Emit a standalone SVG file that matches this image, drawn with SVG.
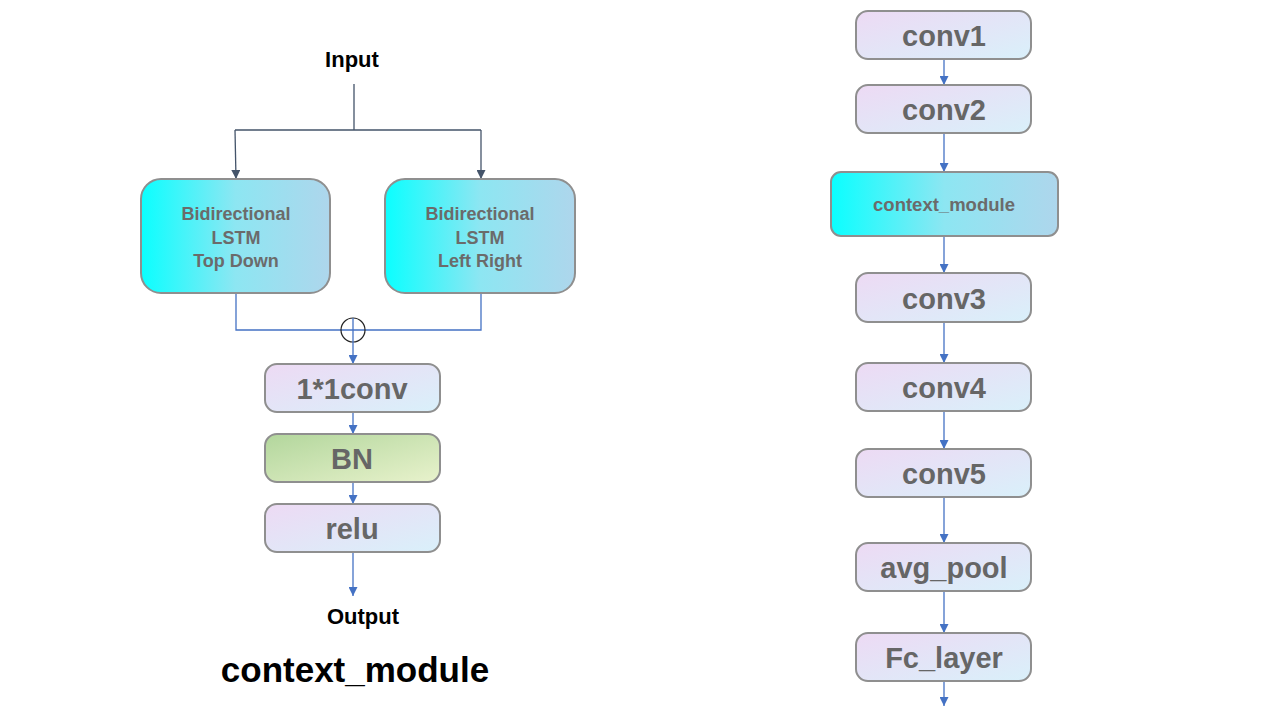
<svg xmlns="http://www.w3.org/2000/svg" width="1280" height="720" viewBox="0 0 1280 720">
<defs>
<linearGradient id="gCyan" x1="0" y1="0" x2="1" y2="0">
<stop offset="0" stop-color="#0AFFFF"/>
<stop offset="0.5" stop-color="#8DE6F2"/>
<stop offset="1" stop-color="#AED6EC"/>
</linearGradient>
<linearGradient id="gPurple" x1="0" y1="0" x2="1" y2="1">
<stop offset="0" stop-color="#EDDAF4"/>
<stop offset="1" stop-color="#D9F0FA"/>
</linearGradient>
<linearGradient id="gGreen" x1="0" y1="0" x2="1" y2="1">
<stop offset="0" stop-color="#B2D69C"/>
<stop offset="1" stop-color="#E8F2CC"/>
</linearGradient>
<marker id="arrBlue" viewBox="0 0 10 10" refX="10" refY="5" markerWidth="9" markerHeight="9" markerUnits="userSpaceOnUse" orient="auto">
<path d="M0,0 L10,5 L0,10 z" fill="#4472C4"/>
</marker>
<marker id="arrDark" viewBox="0 0 10 10" refX="10" refY="5" markerWidth="9" markerHeight="9" markerUnits="userSpaceOnUse" orient="auto">
<path d="M0,0 L10,5 L0,10 z" fill="#44546A"/>
</marker>
</defs>
<style>
.box{stroke:#8F8F8F;stroke-width:2}
.cy{fill:url(#gCyan)}
.pu{fill:url(#gPurple)}
.gr{fill:url(#gGreen)}
.big{font-family:"Liberation Sans",Arial,sans-serif;font-weight:bold;font-size:29px;fill:#666666;text-anchor:middle}
.sm{font-family:"Liberation Sans",Arial,sans-serif;font-weight:bold;font-size:18px;fill:#6B6B6B;text-anchor:middle}
.lbl{font-family:"Liberation Sans",Arial,sans-serif;font-weight:bold;font-size:22px;fill:#000000;text-anchor:middle}
.title{font-family:"Liberation Sans",Arial,sans-serif;font-weight:bold;font-size:35px;fill:#000000;text-anchor:middle}
.cb{fill:none;stroke:#4472C4;stroke-width:1.3}
.cd{fill:none;stroke:#44546A;stroke-width:1.3}
</style>
<rect width="1280" height="720" fill="#FFFFFF"/>

<g id="connectors">
<path class="cd" d="M354,84 V130 M235,130 H481" />
<path class="cd" d="M235,130 L236,179" marker-end="url(#arrDark)"/>
<path class="cd" d="M481,130 V179" marker-end="url(#arrDark)"/>
<path class="cb" d="M236,293 V330 H481 V293"/>
<circle cx="353" cy="330" r="12" fill="none" stroke="#222222" stroke-width="1.2"/>
<path class="cb" d="M353,318 V364" marker-end="url(#arrBlue)"/>
<path class="cb" d="M353,412 V434" marker-end="url(#arrBlue)"/>
<path class="cb" d="M353,482 V504" marker-end="url(#arrBlue)"/>
<path class="cb" d="M353,552 V596" marker-end="url(#arrBlue)"/>
<path class="cb" d="M944,59 V85" marker-end="url(#arrBlue)"/>
<path class="cb" d="M944,133 V172" marker-end="url(#arrBlue)"/>
<path class="cb" d="M944,236 V273" marker-end="url(#arrBlue)"/>
<path class="cb" d="M944,322 V363" marker-end="url(#arrBlue)"/>
<path class="cb" d="M944,411 V449" marker-end="url(#arrBlue)"/>
<path class="cb" d="M944,497 V543" marker-end="url(#arrBlue)"/>
<path class="cb" d="M944,591 V633" marker-end="url(#arrBlue)"/>
<path class="cb" d="M944,681 V706" marker-end="url(#arrBlue)"/>
</g>

<g id="input"><text class="lbl" x="352" y="67">Input</text></g>

<g id="lstm-td">
<rect class="box cy" x="141" y="179" width="189" height="114" rx="20"/>
<text class="sm" x="236" y="220">Bidirectional</text>
<text class="sm" x="236" y="244">LSTM</text>
<text class="sm" x="236" y="267">Top Down</text>
</g>
<g id="lstm-lr">
<rect class="box cy" x="385" y="179" width="190" height="114" rx="20"/>
<text class="sm" x="480" y="220">Bidirectional</text>
<text class="sm" x="480" y="244">LSTM</text>
<text class="sm" x="480" y="267">Left Right</text>
</g>

<g id="conv11">
<rect class="box pu" x="265" y="364" width="175" height="48" rx="12"/>
<text class="big" x="352" y="399">1*1conv</text>
</g>
<g id="bn">
<rect class="box gr" x="265" y="434" width="175" height="48" rx="12"/>
<text class="big" x="352" y="469">BN</text>
</g>
<g id="relu">
<rect class="box pu" x="265" y="504" width="175" height="48" rx="12"/>
<text class="big" x="352" y="539">relu</text>
</g>

<g id="output"><text class="lbl" x="363" y="624">Output</text></g>
<g id="title"><text class="title" x="355" y="682">context_module</text></g>

<g id="conv1">
<rect class="box pu" x="856" y="11" width="175" height="48" rx="12"/>
<text class="big" x="944" y="46">conv1</text>
</g>
<g id="conv2">
<rect class="box pu" x="856" y="85" width="175" height="48" rx="12"/>
<text class="big" x="944" y="120">conv2</text>
</g>
<g id="ctx">
<rect class="box cy" x="831" y="172" width="227" height="64" rx="10"/>
<text class="sm" x="944" y="211" style="font-size:18.5px">context_module</text>
</g>
<g id="conv3">
<rect class="box pu" x="856" y="273" width="175" height="49" rx="12"/>
<text class="big" x="944" y="309">conv3</text>
</g>
<g id="conv4">
<rect class="box pu" x="856" y="363" width="175" height="48" rx="12"/>
<text class="big" x="944" y="398">conv4</text>
</g>
<g id="conv5">
<rect class="box pu" x="856" y="449" width="175" height="48" rx="12"/>
<text class="big" x="944" y="484">conv5</text>
</g>
<g id="avgpool">
<rect class="box pu" x="856" y="543" width="175" height="48" rx="12"/>
<text class="big" x="944" y="578">avg_pool</text>
</g>
<g id="fc">
<rect class="box pu" x="856" y="633" width="175" height="48" rx="12"/>
<text class="big" x="944" y="668">Fc_layer</text>
</g>
</svg>
